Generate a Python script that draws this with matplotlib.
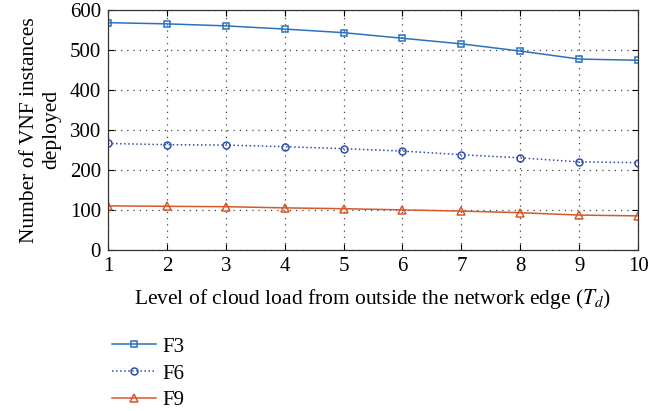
import numpy as np
import matplotlib.pyplot as plt

plt.rcParams['font.family'] = ['Liberation Serif', 'DejaVu Serif']
plt.rcParams['mathtext.fontset'] = 'stix'

load = [1, 2, 3, 4, 5, 6, 7, 8, 9, 10]
f3 = [568, 565, 560, 552, 543, 529, 515, 497, 477, 474]
f6 = [266, 263, 262, 258, 253, 247, 238, 230, 220, 218]
f9 = [110, 109, 108, 105, 103, 100, 97, 93, 87, 85]

fig = plt.figure(figsize=(6.62, 4.11), dpi=100)
ax = fig.add_axes([0.163, 0.392, 0.801, 0.584])

l1, = ax.plot(load, f3, '-s', color='#2a72be', lw=1.1, ms=4.5, mfc='none', mew=1.1, label='F3')
l2, = ax.plot(load, f6, ':o', color='#2e4eb0', lw=1.1, ms=5, mfc='none', mew=1.1, label='F6')
l3, = ax.plot(load, f9, '-^', color='#d9572a', lw=1.1, ms=5.5, mfc='none', mew=1.1, label='F9')

ax.set_xlim(1, 10)
ax.set_ylim(0, 600)
ax.set_xticks(load)
ax.set_yticks(range(0, 601, 100))
ax.grid(True, linestyle=(0, (1, 4)), color='#444444', lw=0.9)
ax.tick_params(direction='in', labelsize=15, top=True, right=True, length=4, pad=5)
for s in ax.spines.values():
    s.set_color('#333333')
    s.set_linewidth(0.9)

ax.set_xlabel('Level of cloud load from outside the network edge ($T_d$)', fontsize=15.5, labelpad=8)
ax.set_ylabel('Number of VNF instances\ndeployed', fontsize=15.5, labelpad=6, linespacing=1.25)

fig.legend(handles=[l1, l2, l3], loc='upper left', bbox_to_anchor=(0.156, 0.2),
           frameon=False, fontsize=15, handlelength=2.15, labelspacing=0.35,
           borderaxespad=0, handletextpad=0.3)

fig.savefig('out.png', dpi=100)
